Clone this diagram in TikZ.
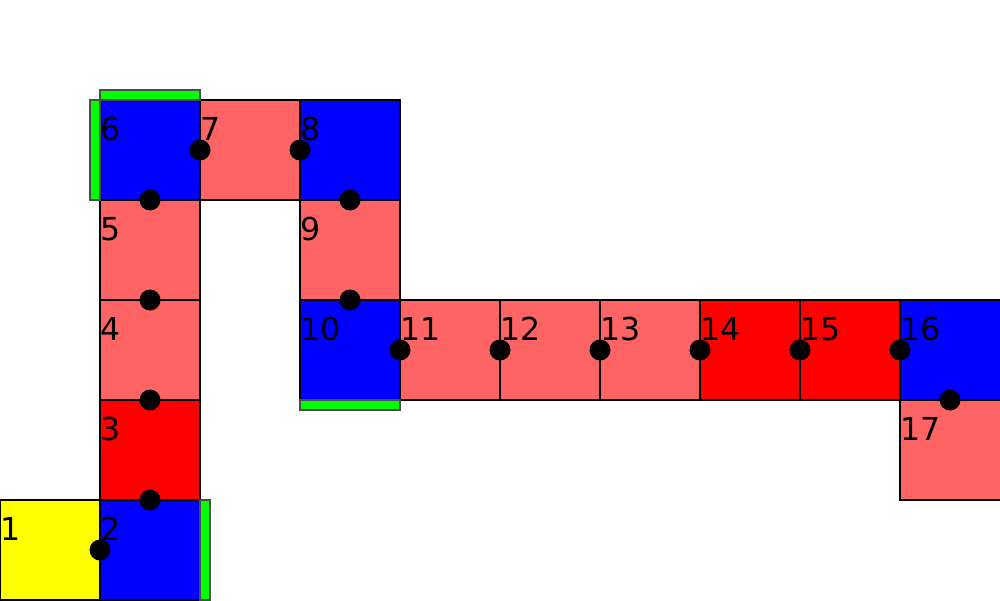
\documentclass[tikz,border=0pt]{standalone}
\usepackage{fontspec}
\setmainfont{DejaVu Sans}
\usetikzlibrary{calc}
\definecolor{lred}{HTML}{FF6464}
\definecolor{pred}{HTML}{FF0000}
\definecolor{pblue}{HTML}{0000FF}
\definecolor{pyel}{HTML}{FFFF00}
\definecolor{pgreen}{HTML}{00FF00}
\tikzset{
  cell/.style={draw=black, line width=0.3pt, minimum size=1cm, inner sep=0pt, outer sep=0pt, anchor=north west},
  lbl/.style={inner sep=0pt, anchor=base west, font=\fontsize{9pt}{11pt}\selectfont},
  bar/.style={fill=pgreen, draw=black!70, line width=0.3pt},
  joint/.style={fill=black, radius=0.105}
}
\begin{document}
\begin{tikzpicture}
\useasboundingbox (0,0) rectangle (10,6);
% cells: top-left corners
\foreach \n/\x/\y/\c in {1/0/1/pyel, 2/1/1/pblue, 3/1/2/pred, 4/1/3/lred, 5/1/4/lred, 6/1/5/pblue, 7/2/5/lred, 8/3/5/pblue, 9/3/4/lred, 10/3/3/pblue, 11/4/3/lred, 12/5/3/lred, 13/6/3/lred, 14/7/3/pred, 15/8/3/pred, 16/9/3/pblue, 17/9/2/lred}{
  \node[cell, fill=\c] (s\n) at (\x,\y) {};
  \node[lbl] (t\n) at ($(s\n.north west)+(0,-0.4)$) {\n};
}
% green bars
\draw[bar] (0.9,4) rectangle (1,5);
\draw[bar] (1,5) rectangle (2,5.1);
\draw[bar] (2,0) rectangle (2.1,1);
\draw[bar] (3,1.9) rectangle (4,2);
% joints
\foreach \a/\b in {1/2,2/3,3/4,4/5,5/6,6/7,7/8,8/9,9/10,10/11,11/12,12/13,13/14,14/15,15/16,16/17}{
  \fill[joint] ($(s\a.center)!0.5!(s\b.center)$) circle;
}
\end{tikzpicture}
\end{document}
